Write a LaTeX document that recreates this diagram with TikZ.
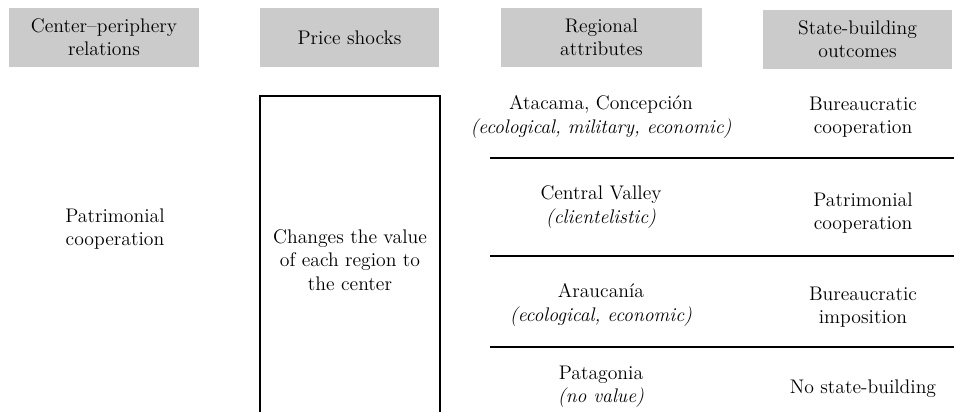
\documentclass[tikz,border=0pt]{standalone}
\usetikzlibrary{positioning}
\definecolor{headgray}{HTML}{CBCBCB}

\begin{document}
\begin{tikzpicture}[
    x=0.02cm, y=-0.02cm,
    font=\fontsize{11.2}{13.2}\selectfont,
    % gray column heads
    header/.style={fill=headgray, align=center, inner sep=0pt, minimum height=1.18cm},
    cell/.style={align=center, inner sep=1pt},
    rule/.style={line width=0.7pt}
]
\useasboundingbox (0,0) rectangle (954,412);

% --- 1. Column heads ---
\node[header, minimum width=3.8cm]  (h_center)  at (104, 37.5) {Center--periphery\\relations};
\node[header, minimum width=3.58cm] (h_price)   at (349.5, 37.5) {Price shocks};
\node[header, minimum width=4.02cm] (h_region)  at (601.5, 37.5) {Regional\\attributes};
\node[header, minimum width=3.78cm] (h_outcome) at (857.5, 39.5) {State-building\\outcomes};

% --- 2. Center-periphery relations ---
\node[cell] (patrimonial) at (115, 229) {Patrimonial\\cooperation};

% --- 3. Price shocks (open box) ---
\draw[rule] (260, 412) -- (260, 96) -- (440, 96) -- (440, 412);
\node[cell] (shock) at (350, 260) {Changes the value\\of each region to\\the center};

% --- 4. Regions and outcomes ---
\node[cell] (atacama)   at (601, 117) {Atacama, Concepción\\\textit{(ecological, military, economic)}};
\node[cell] (central)   at (601, 207) {Central Valley\\\textit{(clientelistic)}};
\node[cell] (araucania) at (601, 305) {Araucanía\\\textit{(ecological, economic)}};
\node[cell] (patagonia) at (601, 387) {Patagonia\\\textit{(no value)}};

\node[cell] (o_bcoop) at (863, 117) {Bureaucratic\\cooperation};
\node[cell] (o_pcoop) at (863, 213) {Patrimonial\\cooperation};
\node[cell] (o_bimp)  at (863, 307) {Bureaucratic\\imposition};
\node[cell] (o_none)  at (863, 389) {No state-building};

% --- 5. Row separators ---
\foreach \ry in {158, 256, 347} {
    \draw[rule] (490, \ry) -- (954, \ry);
}

\end{tikzpicture}
\end{document}
